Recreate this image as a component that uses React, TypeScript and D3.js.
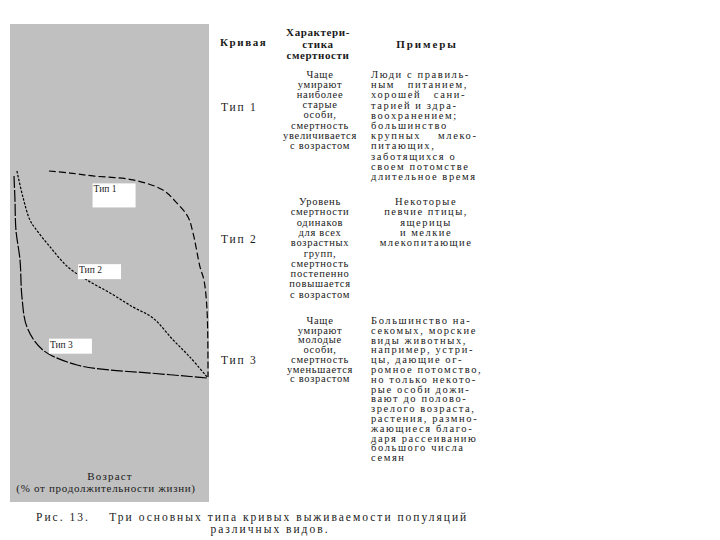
import * as d3 from 'd3';

// survivorship curves: [age % of lifespan, survivors %]
const type1: [number, number][] = [
  [18, 100], [28.9, 99], [40.7, 97.6], [61.3, 95.7], [76.8, 90.8], [84, 84.5],
  [89.7, 77.8], [92.3, 70], [95.9, 53.6], [97.9, 47.3], [99.5, 32.9], [100, 0.5],
];
const type2: [number, number][] = [
  [1.5, 100], [4.6, 87.4], [8.2, 76.3], [10.8, 72.5], [18.6, 63.3], [27.8, 53.6],
  [37.6, 47.3], [49.5, 41.1], [61.3, 34.3], [71.6, 29], [82, 18.4], [90.7, 10.1], [99.5, 0.5],
];
const type3: [number, number][] = [
  [0, 97.6], [0.5, 86], [1, 71.5], [3.1, 57], [4.1, 39.1], [6.7, 24.6], [14.9, 13.5],
  [32.5, 6.3], [49.5, 3.9], [70.1, 2.4], [95.9, 0.3], [99.5, 0],
];
const curveNames = ['Тип 1', 'Тип 2', 'Тип 3'];
const curveDash = ['7,3', '2.5,1.5', '12,2'];

const headerCurve = 'Кривая';
const headerMortality = ['Характери-', 'стика', 'смертности'];
const headerExamples = 'Примеры';
const axisTitle = ['Возраст', '(% от продолжительности жизни)'];
const caption = ['Рис. 13.    Три основных типа кривых выживаемости популяций', 'различных видов.'];

const mortality = [
  ['Чаще', 'умирают', 'наиболее', 'старые', 'особи,', 'смертность', 'увеличивается', 'с возрастом'],
  ['Уровень', 'смертности', 'одинаков', 'для всех', 'возрастных', 'групп,', 'смертность', 'постепенно', 'повышается', 'с возрастом'],
  ['Чаще', 'умирают', 'молодые', 'особи,', 'смертность', 'уменьшается', 'с возрастом'],
];
const examples = [
  ['Люди с правиль-', 'ным   питанием,', 'хорошей   сани-', 'тарией и здра-', 'воохранением;', 'большинство', 'крупных    млеко-', 'питающих,', 'заботящихся о', 'своем потомстве', 'длительное время'],
  ['Некоторые', 'певчие птицы,', 'ящерицы', 'и мелкие', 'млекопитающие'],
  ['Большинство на-', 'секомых, морские', 'виды животных,', 'например, устри-', 'цы, дающие ог-', 'ромное потомство,', 'но только некото-', 'рые особи дожи-', 'вают до полово-', 'зрелого возраста,', 'растения, размно-', 'жающиеся благо-', 'даря рассеиванию', 'большого числа', 'семян'],
];

export default function App() {
  const width = 720;
  const height = 540;
  const panel = { x: 10, y: 24, w: 199, h: 478 };

  const x = d3.scaleLinear().domain([0, 100]).range([14, 208]);
  const y = d3.scaleLinear().domain([0, 100]).range([378, 171]);

  const line = d3.line<[number, number]>()
    .x(d => x(d[0]))
    .y(d => y(d[1]))
    .curve(d3.curveCatmullRom.alpha(0.5));

  const curves = [type1, type2, type3];
  // label boxes placed beside each curve (data units)
  const labelAt: [number, number][] = [[40.5, 94], [33, 55], [18, 19]];

  const font = '"Liberation Serif", "DejaVu Serif", serif';
  const ink = '#1a1a1a';

  const rowTop = [78, 205, 324];
  const rowLabelY = [111, 243, 364];
  const lh = [10.1, 10.3, 9.7];
  const exLh = [10.2, 10.3, 9.8];

  return (
    <svg width={width} height={height} viewBox={`0 0 ${width} ${height}`}
      style={{ position: 'absolute', left: 0, top: 0, background: '#fff' }}
      fontFamily={font}>
      <rect x={panel.x} y={panel.y} width={panel.w} height={panel.h} fill="#c0c0c0" />

      {curves.map((c, i) => (
        <path key={i} d={line(c) ?? ''} fill="none" stroke="#000" strokeWidth={1.2}
          strokeDasharray={curveDash[i]} />
      ))}

      {curveNames.map((n, i) => (
        <g key={n} transform={`translate(${x(labelAt[i][0])},${y(labelAt[i][1])})`}>
          <rect x={0} y={0} width={43} height={i === 0 ? 24 : 15} fill="#fff" />
          <text x={1} y={9} fontSize={9.5} fill={ink}>{n}</text>
        </g>
      ))}

      <text x={110} y={480} textAnchor="middle" fontSize={11} letterSpacing={1.2} fill={ink}>{axisTitle[0]}</text>
      <text x={106} y={492} textAnchor="middle" fontSize={11} letterSpacing={0.7} fill={ink}>{axisTitle[1]}</text>

      {/* table header */}
      <text x={220} y={46} fontSize={11} fontWeight="bold" letterSpacing={1.6} fill={ink}>{headerCurve}</text>
      {headerMortality.map((t, i) => (
        <text key={t} x={318} y={36 + i * 11.5} textAnchor="middle" fontSize={11} fontWeight="bold" letterSpacing={0.6} fill={ink}>{t}</text>
      ))}
      <text x={427} y={48} textAnchor="middle" fontSize={11} fontWeight="bold" letterSpacing={1.9} fill={ink}>{headerExamples}</text>

      {curveNames.map((n, r) => (
        <g key={r}>
          <text x={221} y={rowLabelY[r]} fontSize={11.5} letterSpacing={1.8} fill={ink}>{n}</text>
          {mortality[r].map((t, i) => (
            <text key={i} x={320} y={rowTop[r] + i * lh[r]} textAnchor="middle" fontSize={10.5} letterSpacing={0.7} fill={ink}>{t}</text>
          ))}
          {examples[r].map((t, i) => (
            r === 1
              ? <text key={i} x={426} y={rowTop[r] + i * exLh[r]} textAnchor="middle" fontSize={10.5} letterSpacing={1.5} fill={ink}>{t}</text>
              : <text key={i} x={371} y={rowTop[r] + i * exLh[r]} fontSize={10.5} letterSpacing={1.6} fill={ink} xmlSpace="preserve">{t}</text>
          ))}
        </g>
      ))}

      <text x={36} y={521} fontSize={11.5} letterSpacing={2} fill={ink} xmlSpace="preserve">{caption[0]}</text>
      <text x={270} y={533} textAnchor="middle" fontSize={11.5} letterSpacing={2} fill={ink}>{caption[1]}</text>
    </svg>
  );
}
